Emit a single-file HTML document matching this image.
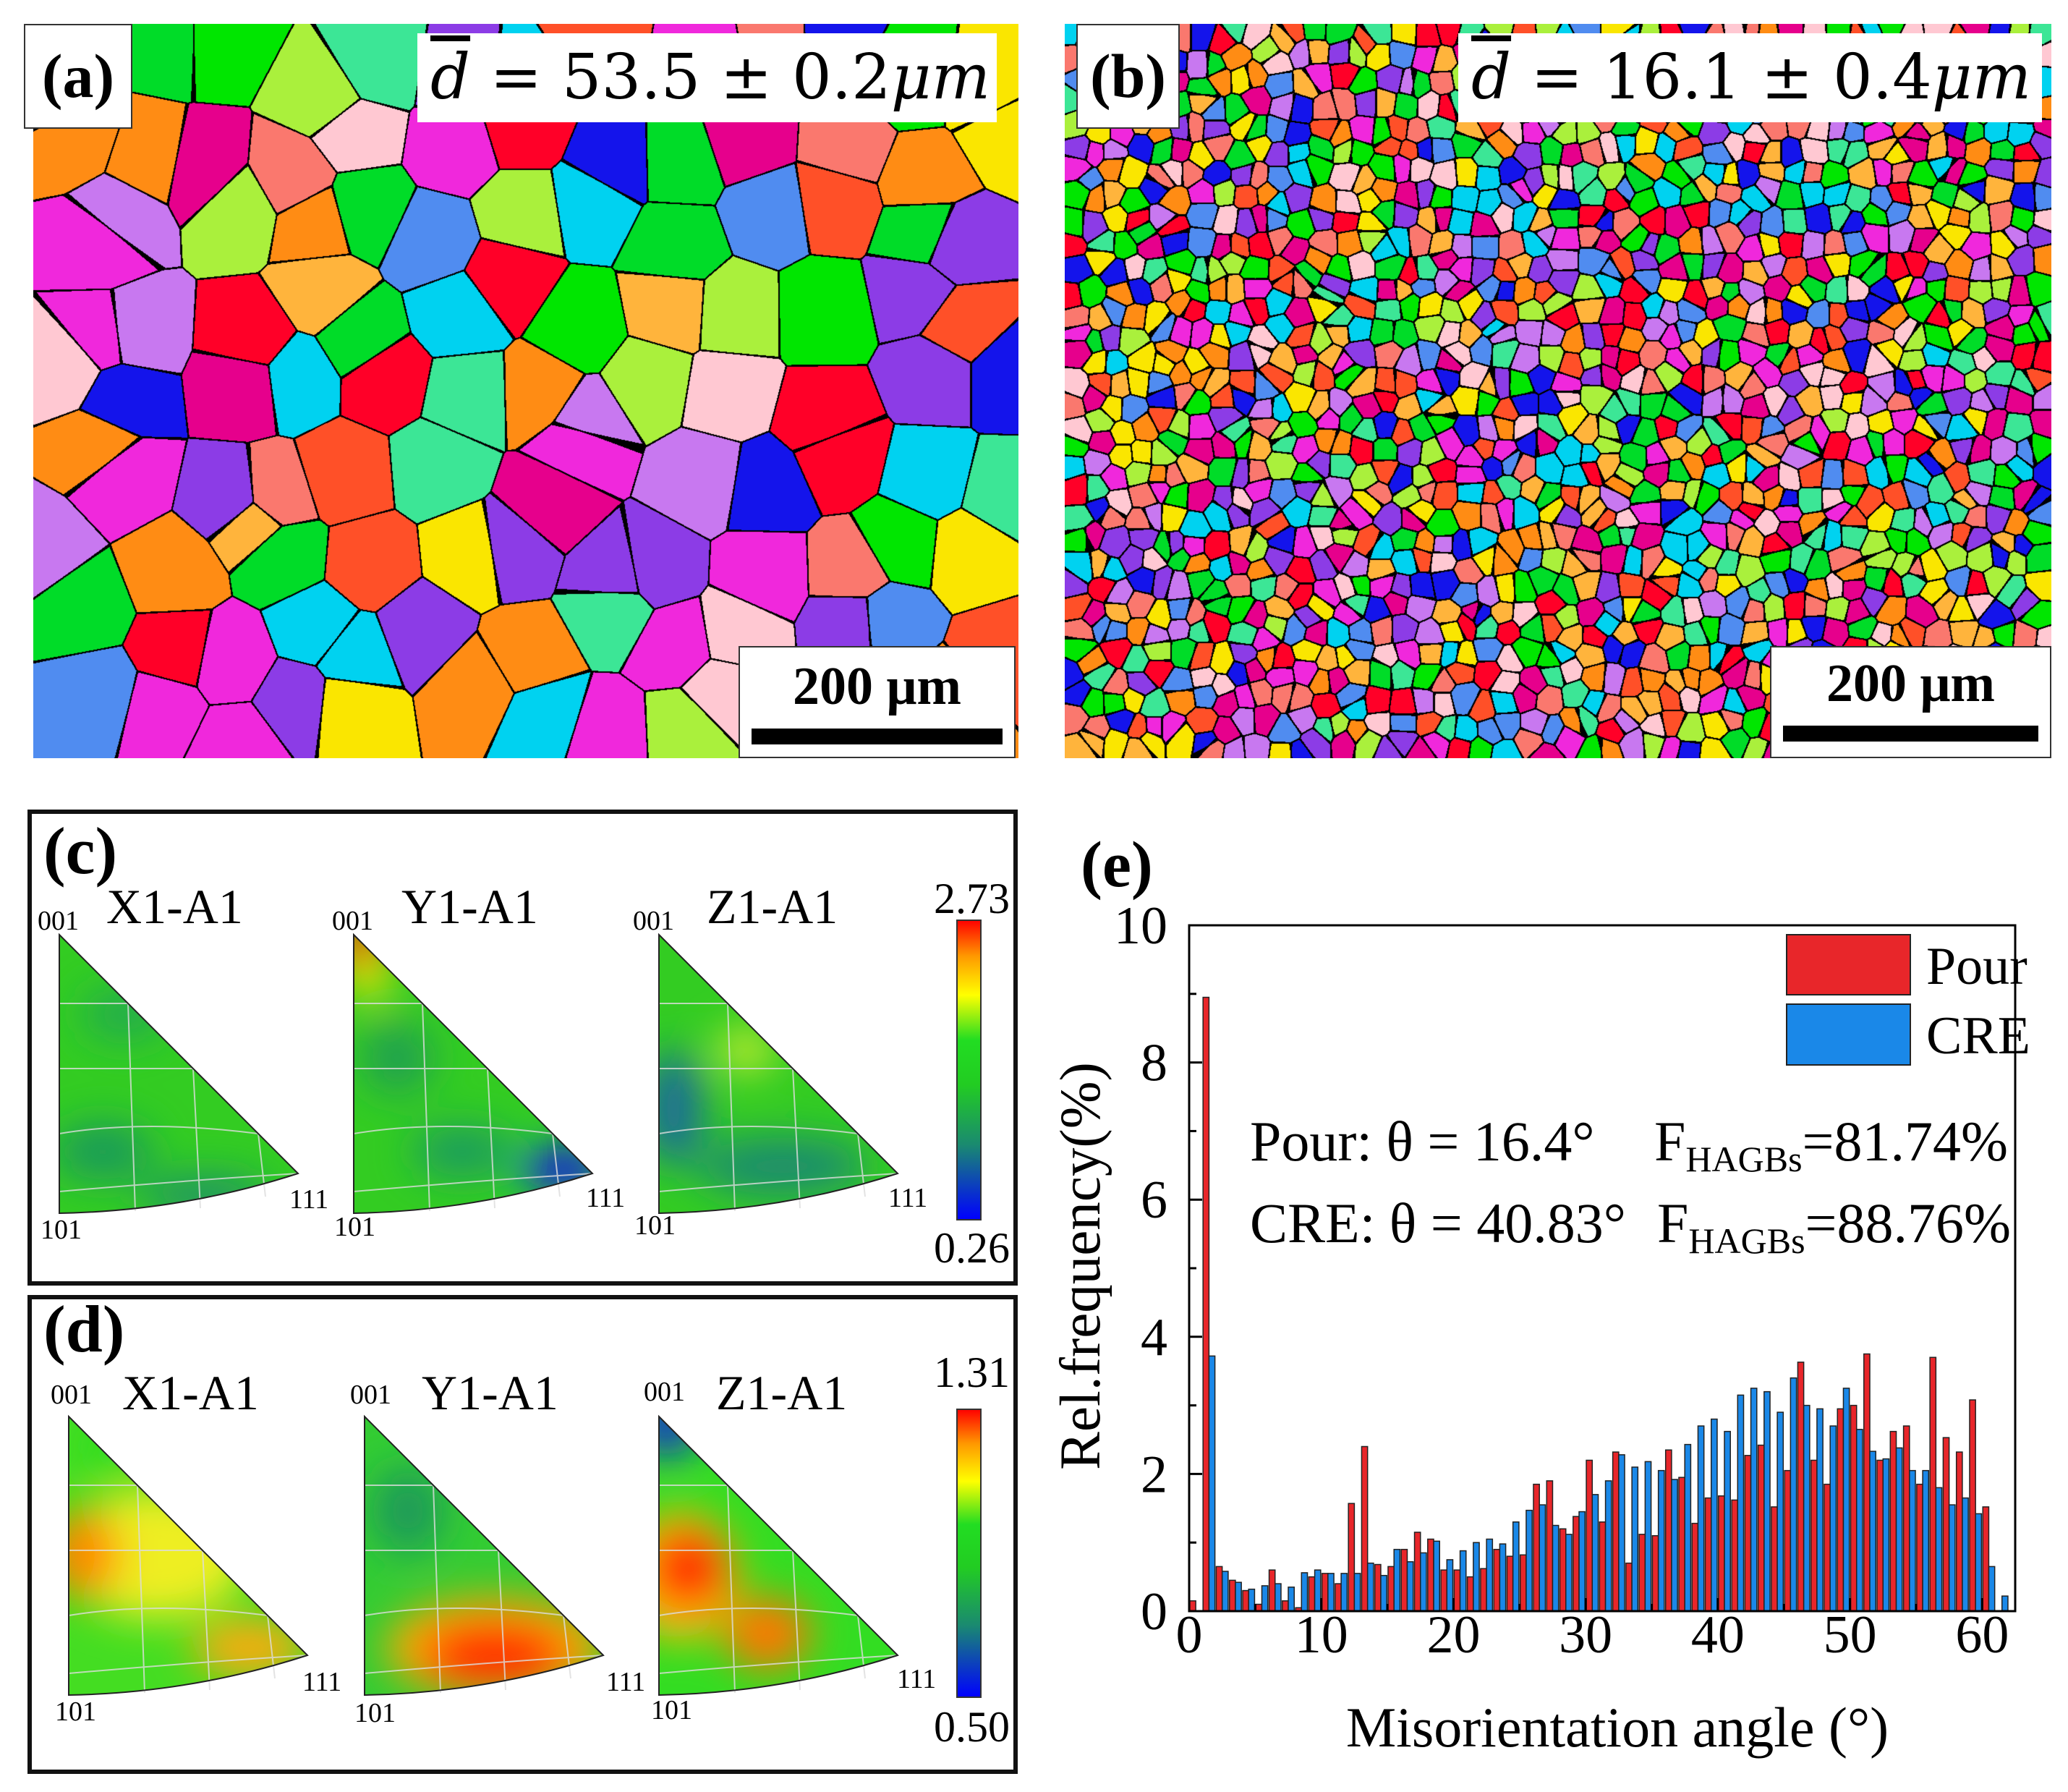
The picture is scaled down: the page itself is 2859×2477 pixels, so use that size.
<!DOCTYPE html>
<html><head><meta charset="utf-8">
<style>
html,body{margin:0;padding:0;background:#fff;}
body{width:2859px;height:2477px;position:relative;overflow:hidden;font-family:"Liberation Serif",serif;}
.abs{position:absolute;}
canvas{position:absolute;}
.lbl{position:absolute;background:#fff;border:2px solid #333;box-sizing:border-box;font-family:"Liberation Serif",serif;font-weight:bold;color:#000;text-align:center;}
.dbox{position:absolute;background:#fff;box-sizing:border-box;font-family:"DejaVu Serif","Liberation Serif",serif;color:#000;white-space:nowrap;}
.sbox{position:absolute;background:#fff;border:2px solid #333;box-sizing:border-box;}
</style></head><body>

<canvas id="mapA" width="1362" height="1015" style="left:46px;top:33px;"></canvas>
<canvas id="mapB" width="1364" height="1015" style="left:1472px;top:33px;"></canvas>

<div class="lbl" style="left:33px;top:33px;width:150px;height:145px;font-size:86px;line-height:140px;">(a)</div>
<div class="dbox" style="left:577px;top:46px;width:801px;height:123px;font-size:86px;line-height:123px;padding-left:18px;"><span style="text-decoration:overline;font-style:italic;">d</span> = 53.5 ± 0.2<i>μm</i></div>
<div class="sbox" style="left:1021px;top:893px;width:383px;height:155px;">
<div style="position:absolute;left:0;right:0;top:12px;text-align:center;font-weight:bold;font-size:74px;">200 μm</div>
<div style="position:absolute;left:16px;right:16px;top:112px;height:22px;background:#000;"></div></div>

<div class="lbl" style="left:1488px;top:33px;width:143px;height:145px;font-size:86px;line-height:140px;">(b)</div>
<div class="dbox" style="left:2016px;top:46px;width:807px;height:123px;font-size:86px;line-height:123px;padding-left:18px;"><span style="text-decoration:overline;font-style:italic;">d</span> = 16.1 ± 0.4<i>μm</i></div>
<div class="sbox" style="left:2447px;top:893px;width:389px;height:155px;">
<div style="position:absolute;left:0;right:0;top:8px;text-align:center;font-weight:bold;font-size:74px;">200 μm</div>
<div style="position:absolute;left:16px;right:16px;top:108px;height:22px;background:#000;"></div></div>

<svg class="abs" style="left:0;top:0" width="2859" height="2477">
<defs>
<filter id="bl" x="-50%" y="-50%" width="200%" height="200%"><feGaussianBlur stdDeviation="28"/></filter>
<clipPath id="tri"><path d="M0,0 L330,330 Q170,382 0,385 Z"/></clipPath>
<linearGradient id="cb" x1="0" y1="1" x2="0" y2="0">
<stop offset="0" stop-color="#0000ff"/><stop offset="0.25" stop-color="#1a8a70"/><stop offset="0.45" stop-color="#22cc22"/><stop offset="0.6" stop-color="#22dd22"/><stop offset="0.75" stop-color="#ffff00"/><stop offset="0.88" stop-color="#ff9900"/><stop offset="1" stop-color="#ff0000"/></linearGradient>
<g id="grid" fill="none" stroke="#ddd" stroke-width="2" opacity="0.8">
<path d="M0,95 L95,95 M0,185 L185,185 M0,275 Q120,255 275,275 M0,355 Q170,340 330,330"/>
<path d="M95,95 L105,382 M185,185 L195,378 M275,275 L285,362"/></g>
<path id="edge" d="M0,0 L330,330 Q170,382 0,385 Z" fill="none" stroke="#222" stroke-width="2"/>
</defs>
<rect x="41" y="1122" width="1363" height="652" fill="none" stroke="#111" stroke-width="6"/>
<rect x="41" y="1793" width="1363" height="656" fill="none" stroke="#111" stroke-width="6"/>
<text x="60" y="1207" font-size="92" font-weight="bold" font-family="Liberation Serif">(c)</text>
<text x="60" y="1868" font-size="92" font-weight="bold" font-family="Liberation Serif">(d)</text>

<g transform="translate(82,1292)">
<g clip-path="url(#tri)"><rect x="-10" y="-10" width="360" height="420" fill="#33cc22"/>
<g filter="url(#bl)"><ellipse cx="60" cy="300" rx="70" ry="40" fill="#1c9a5a"/><ellipse cx="200" cy="360" rx="90" ry="25" fill="#1a8a70"/><ellipse cx="90" cy="110" rx="60" ry="35" fill="#20aa50"/></g></g>
<use href="#grid"/><use href="#edge"/></g>
<g transform="translate(489,1292)">
<g clip-path="url(#tri)"><rect x="-10" y="-10" width="360" height="420" fill="#33cc22"/>
<g filter="url(#bl)"><ellipse cx="10" cy="15" rx="35" ry="45" fill="#ff3300"/><ellipse cx="20" cy="60" rx="30" ry="30" fill="#eeee00"/><ellipse cx="290" cy="325" rx="60" ry="30" fill="#1010ee"/><ellipse cx="150" cy="300" rx="70" ry="35" fill="#1a9a60"/><ellipse cx="60" cy="170" rx="50" ry="50" fill="#20a050"/></g></g>
<use href="#grid"/><use href="#edge"/></g>
<g transform="translate(911,1292)">
<g clip-path="url(#tri)"><rect x="-10" y="-10" width="360" height="420" fill="#33cc22"/>
<g filter="url(#bl)"><ellipse cx="20" cy="240" rx="40" ry="80" fill="#1a6a9a"/><ellipse cx="170" cy="320" rx="120" ry="40" fill="#1a8a70"/><ellipse cx="120" cy="160" rx="40" ry="30" fill="#ccee33"/></g></g>
<use href="#grid"/><use href="#edge"/></g>

<g transform="translate(95,1958)">
<g clip-path="url(#tri)"><rect x="-10" y="-10" width="360" height="420" fill="#44dd22"/>
<g filter="url(#bl)"><ellipse cx="120" cy="190" rx="130" ry="90" fill="#eeee22"/><ellipse cx="20" cy="190" rx="50" ry="60" fill="#ff8800"/><ellipse cx="250" cy="320" rx="80" ry="40" fill="#ffaa11"/><ellipse cx="60" cy="40" rx="50" ry="40" fill="#33dd22"/></g></g>
<use href="#grid"/><use href="#edge"/></g>
<g transform="translate(504,1958)">
<g clip-path="url(#tri)"><rect x="-10" y="-10" width="360" height="420" fill="#33cc33"/>
<g filter="url(#bl)"><ellipse cx="180" cy="320" rx="150" ry="70" fill="#ffaa00"/><ellipse cx="180" cy="330" rx="100" ry="45" fill="#ff2200"/><ellipse cx="60" cy="130" rx="50" ry="60" fill="#1a9a5a"/></g></g>
<use href="#grid"/><use href="#edge"/></g>
<g transform="translate(911,1958)">
<g clip-path="url(#tri)"><rect x="-10" y="-10" width="360" height="420" fill="#33dd22"/>
<g filter="url(#bl)"><ellipse cx="30" cy="220" rx="80" ry="90" fill="#ffbb11"/><ellipse cx="40" cy="210" rx="55" ry="55" fill="#ff2200"/><ellipse cx="150" cy="300" rx="60" ry="50" fill="#ff7700"/><ellipse cx="10" cy="10" rx="45" ry="45" fill="#1030cc"/></g></g>
<use href="#grid"/><use href="#edge"/></g>

<g font-family="Liberation Serif" fill="#000">
<g font-size="38"><text x="52" y="1285">001</text><text x="56" y="1712">101</text><text x="400" y="1670">111</text>
<text x="459" y="1285">001</text><text x="462" y="1708">101</text><text x="810" y="1668">111</text>
<text x="875" y="1285">001</text><text x="877" y="1706">101</text><text x="1228" y="1668">111</text>
<text x="70" y="1940">001</text><text x="76" y="2378">101</text><text x="418" y="2337">111</text>
<text x="484" y="1940">001</text><text x="490" y="2380">101</text><text x="838" y="2337">111</text>
<text x="890" y="1936">001</text><text x="900" y="2376">101</text><text x="1240" y="2333">111</text></g>
<g font-size="68"><text x="147" y="1276">X1-A1</text><text x="555" y="1276">Y1-A1</text><text x="977" y="1276">Z1-A1</text>
<text x="169" y="1948">X1-A1</text><text x="583" y="1948">Y1-A1</text><text x="990" y="1948">Z1-A1</text></g>
<g font-size="60" text-anchor="end"><text x="1396" y="1262">2.73</text><text x="1396" y="1745">0.26</text><text x="1396" y="1917">1.31</text><text x="1396" y="2407">0.50</text></g>
</g>
<rect x="1323" y="1272" width="33" height="414" fill="url(#cb)" stroke="#333" stroke-width="2"/>
<rect x="1323" y="1948" width="33" height="398" fill="url(#cb)" stroke="#333" stroke-width="2"/>
</svg>

<svg id="chart" class="abs" style="left:0;top:0" width="2859" height="2477"></svg>

<script>
// ---- chart data ----
const bins = [0,1,2,3,4,5,6,7,8,9,10,11,12,13,14,15,16,17,18,19,20,21,22,23,24,25,26,27,28,29,30,31,32,33,34,35,36,37,38,39,40,41,42,43,44,45,46,47,48,49,50,51,52,53,54,55,56,57,58,59,60,61];
const pourValues = [0.15,8.95,0.65,0.45,0.3,0.1,0.6,0.15,0.05,0.5,0.55,0.4,1.57,2.4,0.68,0.65,0.9,1.15,1.05,0.6,0.6,0.5,0.62,0.9,0.8,0.82,1.85,1.9,1.2,1.38,2.2,1.3,2.32,0.7,1.12,1.1,2.35,1.95,1.28,1.65,1.68,1.62,2.27,2.42,1.52,2.05,3.63,2.2,1.85,2.95,3.0,3.75,2.2,2.62,2.7,1.85,3.7,2.53,2.32,3.08,1.52,0];
const creValues = [0,3.72,0.58,0.42,0.32,0.37,0.4,0.35,0.56,0.6,0.55,0.55,0.55,0.7,0.52,0.9,0.72,0.85,1.02,0.75,0.88,1.0,1.05,0.98,1.3,1.47,1.55,1.25,1.12,1.45,1.7,1.9,2.28,2.1,2.18,2.05,1.92,2.43,2.7,2.8,2.62,3.15,3.25,3.2,2.9,3.4,3.0,2.95,2.7,3.25,2.65,2.33,2.22,2.38,2.05,2.05,1.8,1.55,1.65,1.42,0.65,0.22];
const xTicks = [0,10,20,30,40,50,60];
const yTicks = [0,2,4,6,8,10];

const NS='http://www.w3.org/2000/svg';
const svg=document.getElementById('chart');
const X0=1644,X1=2786,Y0=2227,Y1=1279,XMAX=62.5,YMAX=10;
const sx=v=>X0+(v/XMAX)*(X1-X0);
const sy=v=>Y0-(v/YMAX)*(Y0-Y1);
function mk(tag,attrs,parent){const e=document.createElementNS(NS,tag);for(const k in attrs)e.setAttribute(k,attrs[k]);(parent||svg).appendChild(e);return e;}

const lab=mk('text',{x:1494,y:1225,'font-size':90,'font-weight':'bold','font-family':'Liberation Serif'});


lab.textContent='(e)';

const bars=mk('g',{});


bins.forEach((b,i)=>{
  const r=mk('rect',{x:sx(b+0.05),y:sy(pourValues[i]),width:sx(0.45)-sx(0),height:Math.max(0,Y0-sy(pourValues[i])),fill:'#e8262a',stroke:'#222','stroke-width':1.5},bars);
  
  
  const c=mk('rect',{x:sx(b+0.5),y:sy(creValues[i]),width:sx(0.45)-sx(0),height:Math.max(0,Y0-sy(creValues[i])),fill:'#1a88e8',stroke:'#222','stroke-width':1.5},bars);
  
  
});

const frame=mk('rect',{x:X0,y:Y1,width:X1-X0,height:Y0-Y1,fill:'none',stroke:'#000','stroke-width':3});



const ax=mk('g',{'font-family':'Liberation Serif','font-size':74});


for(let v=0;v<=60;v+=5){mk('line',{x1:sx(v),x2:sx(v),y1:Y0,y2:Y0-(v%10===0?18:10),stroke:'#000','stroke-width':3},ax);}
for(let v=0;v<=10;v+=1){mk('line',{x1:X0,x2:X0+(v%2===0?18:10),y1:sy(v),y2:sy(v),stroke:'#000','stroke-width':3},ax);}
xTicks.forEach(v=>{const t=mk('text',{x:sx(v),y:2284,'text-anchor':'middle'},ax);t.textContent=v;});
yTicks.forEach(v=>{const t=mk('text',{x:1614,y:sy(v)+25,'text-anchor':'end'},ax);t.textContent=v;});
const xt=mk('text',{x:2236,y:2414,'text-anchor':'middle','font-size':78},ax);


xt.textContent='Misorientation angle (°)';
const yt=mk('text',{x:0,y:0,'text-anchor':'middle','font-size':79,transform:'translate(1520,1750) rotate(-90)'},ax);


yt.textContent='Rel.frequency(%)';

const lg=mk('g',{'font-family':'Liberation Serif','font-size':74});


mk('rect',{x:2470,y:1292,width:171,height:83,fill:'#e8262a',stroke:'#222','stroke-width':2},lg);
mk('rect',{x:2470,y:1388,width:171,height:84,fill:'#1a88e8',stroke:'#222','stroke-width':2},lg);
const l1=mk('text',{x:2663,y:1360},lg);l1.textContent='Pour';
const l2=mk('text',{x:2663,y:1456},lg);l2.textContent='CRE';

const an=mk('g',{'font-family':'Liberation Serif','font-size':78});


const a1=mk('text',{x:1728,y:1604},an);a1.textContent='Pour: θ = 16.4°';
const a2=mk('text',{x:2287,y:1604},an);a2.innerHTML='F<tspan font-size="50" dy="15">HAGBs</tspan><tspan dy="-15">=81.74%</tspan>';
const a3=mk('text',{x:1728,y:1717},an);a3.textContent='CRE: θ = 40.83°';
const a4=mk('text',{x:2291,y:1717},an);a4.innerHTML='F<tspan font-size="50" dy="15">HAGBs</tspan><tspan dy="-15">=88.76%</tspan>';

// ---- grain maps (decorative) ----
function rng(seed){let s=seed>>>0;return()=>{s=(s*1664525+1013904223)>>>0;return s/4294967296;};}
const pal=[[255,0,40],[0,230,0],[20,20,235],[240,40,220],[250,230,0],[255,140,20],[0,210,240],[140,60,230],[250,120,110],[170,240,60],[60,230,150],[230,0,140],[80,140,240],[255,80,40],[200,120,240],[0,220,40],[255,200,210],[255,180,60]];
function grains(id,cols,rows,seed){
  const cv=document.getElementById(id),ctx=cv.getContext('2d'),W=cv.width,H=cv.height;
  const r=rng(seed),cw=W/cols,ch=H/rows,pts=[];
  for(let j=0;j<rows;j++)for(let i=0;i<cols;i++){pts.push([(i+0.1+0.8*r())*cw,(j+0.1+0.8*r())*ch,pal[Math.floor(r()*pal.length)]]);}
  const img=ctx.createImageData(W,H),d=img.data;
  for(let y=0;y<H;y++){const cy=Math.min(rows-1,Math.floor(y/ch));
    for(let x=0;x<W;x++){const cx=Math.min(cols-1,Math.floor(x/cw));
      let d1=1e18,d2=1e18,c=null;
      for(let jj=cy-1;jj<=cy+1;jj++){if(jj<0||jj>=rows)continue;for(let ii=cx-1;ii<=cx+1;ii++){if(ii<0||ii>=cols)continue;
        const p=pts[jj*cols+ii],dx=x-p[0],dy=y-p[1],dd=dx*dx+dy*dy;
        if(dd<d1){d2=d1;d1=dd;c=p[2];}else if(dd<d2)d2=dd;}}
      const k=(y*W+x)*4;
      if(Math.sqrt(d2)-Math.sqrt(d1)<2.2){d[k]=d[k+1]=d[k+2]=0;}else{d[k]=c[0];d[k+1]=c[1];d[k+2]=c[2];}
      d[k+3]=255;}}
  ctx.putImageData(img,0,0);
}
grains('mapA',13,9,7);
grains('mapB',48,32,11);
</script>
</body></html>
